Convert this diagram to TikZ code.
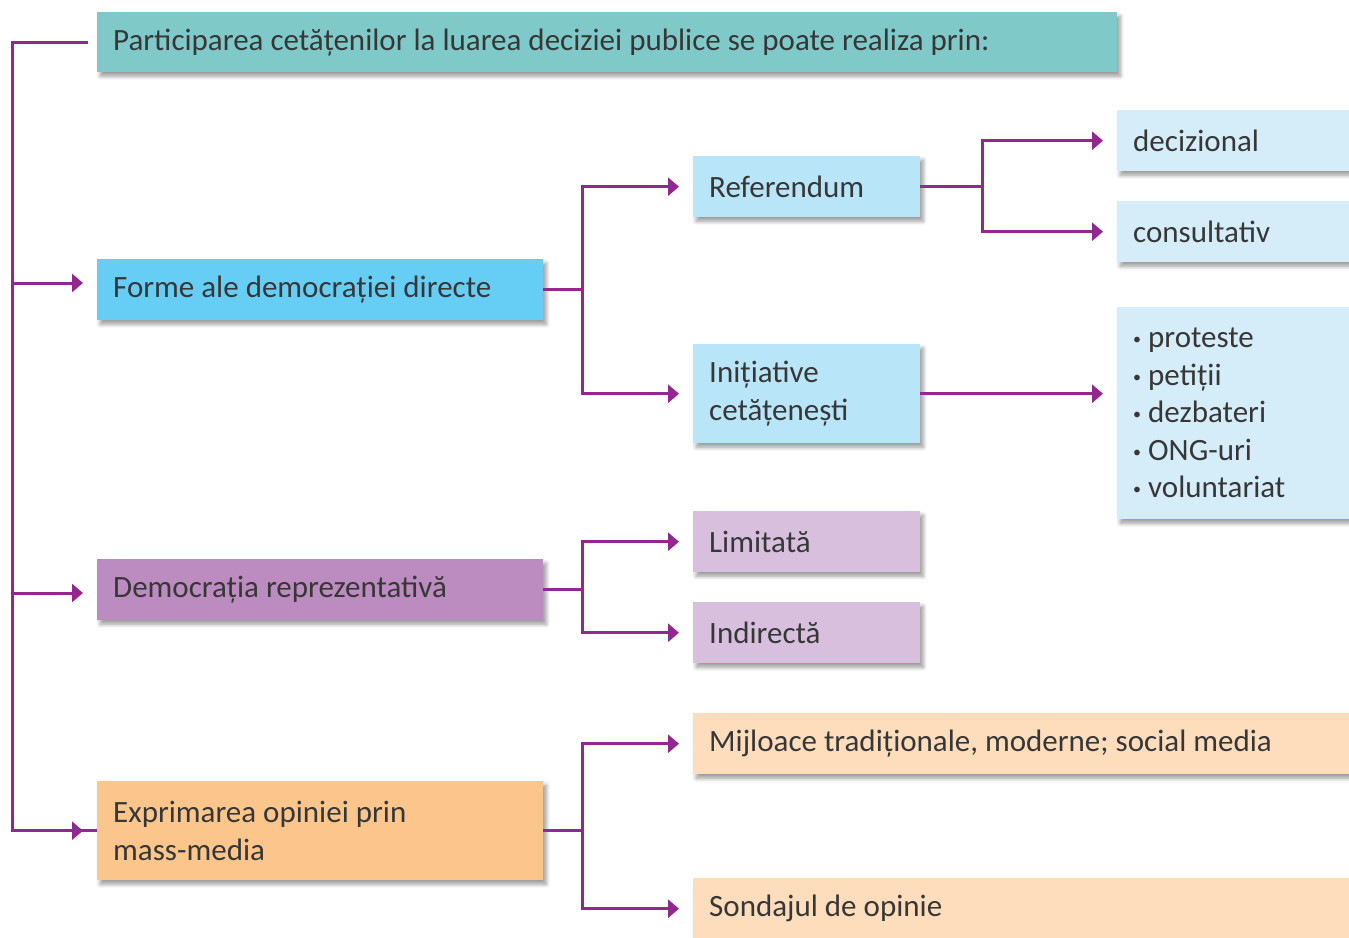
\documentclass[tikz,border=0pt]{standalone}
\usepackage{fontspec}
\setmainfont{Carlito}
\usetikzlibrary{arrows.meta,shadows.blur}
\usepackage{xcolor}
\definecolor{lnk}{RGB}{146,39,143}
\definecolor{txtgray}{RGB}{55,55,55}
\definecolor{teal1}{RGB}{127,201,201}
\definecolor{blue1}{RGB}{102,205,245}
\definecolor{blue2}{RGB}{185,229,249}
\definecolor{blue3}{RGB}{213,236,249}
\definecolor{purp1}{RGB}{188,139,191}
\definecolor{purp2}{RGB}{217,191,222}
\definecolor{orng1}{RGB}{251,198,140}
\definecolor{orng2}{RGB}{253,221,187}
\newcommand{\bul}{\makebox[15pt][l]{\raisebox{3pt}{\fontsize{16}{16}\selectfont •}}}

\tikzset{
  box/.style={rectangle, anchor=north west, inner xsep=16pt, inner ysep=0pt,
    align=flush left, text=txtgray, font=\fontsize{31}{37.5}\selectfont,
    blur shadow={shadow xshift=3pt, shadow yshift=-4pt, shadow blur steps=6,
      shadow blur radius=4pt, shadow opacity=40}},
  link/.style={draw=lnk, line width=3pt},
  arrow/.style={link, -{Triangle[length=11pt,width=18pt]}, shorten >=14pt}
}

\begin{document}
\begin{tikzpicture}[x=1pt,y=-1pt]
\clip (0,0) rectangle (1349,937);
\node[box, fill=teal1, minimum height=60pt, text width=988pt] (title) at (97,12)
  {Participarea cetățenilor la luarea deciziei publice se poate realiza prin:};
\node[box, fill=blue1, minimum height=61pt, text width=414pt] (forme) at (97,259)
  {Forme ale democrației directe};
\node[box, fill=purp1, minimum height=61pt, text width=414pt] (dem) at (97,559)
  {Democrația reprezentativă};
\node[box, fill=orng1, minimum height=99pt, text width=414pt] (mass) at (97,781)
  {Exprimarea opiniei prin\\mass-media};
\node[box, fill=blue2, minimum height=61pt, text width=195pt] (ref) at (693,156)
  {Referendum};
\node[box, fill=blue2, minimum height=99pt, text width=195pt] (init) at (693,344)
  {Inițiative\\cetățenești};
\node[box, fill=purp2, minimum height=61pt, text width=195pt] (lim) at (693,511)
  {Limitată};
\node[box, fill=purp2, minimum height=61pt, text width=195pt] (ind) at (693,602)
  {Indirectă};
\node[box, fill=orng2, minimum height=61pt, text width=640pt] (mij) at (693,713)
  {Mijloace tradiționale, moderne; social media};
\node[box, fill=orng2, minimum height=61pt, text width=640pt] (sond) at (693,878)
  {Sondajul de opinie};
\node[box, fill=blue3, minimum height=61pt, text width=220pt] (dec) at (1117,110)
  {decizional};
\node[box, fill=blue3, minimum height=61pt, text width=220pt] (cons) at (1117,201)
  {consultativ};
\node[box, fill=blue3, minimum height=212pt, text width=220pt] (list) at (1117,307)
  {\bul proteste\\\bul petiții\\\bul dezbateri\\\bul ONG-uri\\\bul voluntariat};

\draw[link, shorten <=9pt] (title.west) -- ++(-85,0) coordinate (top) |- (mass.west);
\draw[arrow] (top |- 0,283) -- (forme.west |- 0,283);
\draw[arrow] (top |- 0,593) -- (dem.west |- 0,593);
\draw[arrow] (top |- mass.west) -- (mass.west);

\draw[link] (forme.east) -- ++(39,0) coordinate (fb);
\draw[arrow] (fb) |- (ref.west);
\draw[arrow] (fb) |- (init.west);

\draw[link] (ref.east) -- ++(62,0) coordinate (rb);
\draw[arrow] (rb) |- (dec.west);
\draw[arrow] (rb) |- (cons.west);
\draw[arrow] (init.east) -- (init.east -| list.west);

\draw[link] (dem.east) -- ++(39,0) coordinate (db);
\draw[arrow] (db) |- (lim.west);
\draw[arrow] (db) |- (ind.west);

\draw[link] (mass.east) -- ++(39,0) coordinate (mb);
\draw[arrow] (mb) |- (mij.west);
\draw[arrow] (mb) |- (sond.west);
\end{tikzpicture}
\end{document}
